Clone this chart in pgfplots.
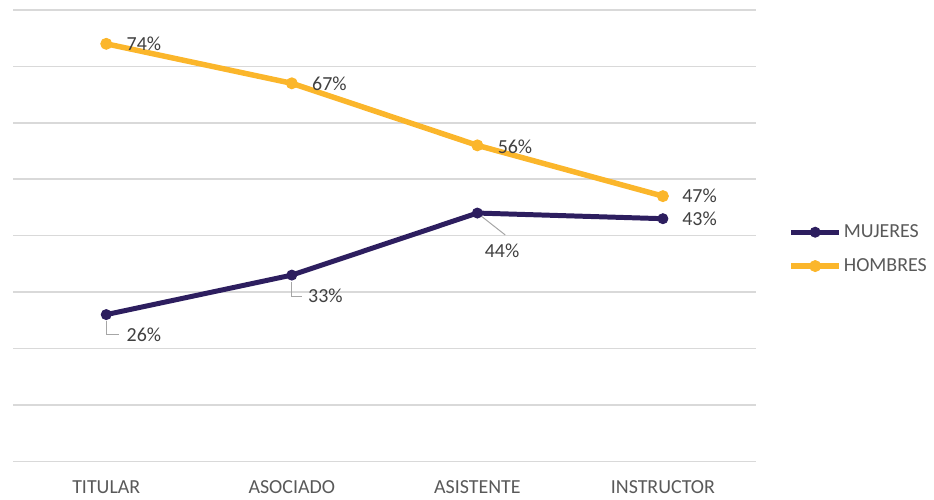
\documentclass[border=0pt]{standalone}
\usepackage{fontspec}
\setmainfont{Carlito}
\usepackage{pgfplots}
\usepackage{pgfplotstable}
\pgfplotsset{compat=1.18}
\definecolor{muj}{RGB}{45,30,95}
\definecolor{hom}{RGB}{251,182,43}
\definecolor{gridc}{RGB}{217,217,217}
\definecolor{txt}{RGB}{89,89,89}
\definecolor{lbl}{RGB}{64,64,64}
\pgfplotstableread{
x y dx dy
0 26 20 -20
1 33 16 -21
2 44 7 -38
3 43 19 0
}\mujeres
\pgfplotstableread{
x y dx dy
0 74 20 0
1 67 20 0
2 56 20 -1
3 47 19 0
}\hombres
\begin{document}
\fontsize{20}{24}\selectfont
\begin{tikzpicture}
\path (-10pt,-38pt) rectangle (924pt,463pt);
\begin{axis}[
  scale only axis, width=745pt, height=453pt,
  xmin=-0.5, xmax=3.5, ymin=0, ymax=80,
  xtick={0,1,2,3}, xticklabels={TITULAR,ASOCIADO,ASISTENTE,INSTRUCTOR},
  ytick={0,10,...,80}, yticklabels={},
  ymajorgrids, grid style={gridc, line width=1.5pt},
  axis line style={draw=none}, major tick length=0pt,
  /pgf/number format/assume math mode=true,
  xticklabel style={font=\fontsize{20}{24}\selectfont, text=txt, anchor=base, yshift=-32pt},
  clip=false,
  legend style={at={(1.04,0.47)}, anchor=west, draw=none, fill=none,
    font=\fontsize{20}{24}\selectfont, text=txt, row sep=14pt,
    nodes={inner sep=2pt, anchor=west}},
  legend cell align=left,
  legend image code/.code={\draw[mark repeat=2, mark phase=2, #1] plot coordinates {(0pt,0pt) (24pt,0pt) (48pt,0pt)};},
  nodes near coords={\pgfmathprintnumber{\pgfplotspointmeta}\%},
  visualization depends on={\thisrow{dx} \as \dx},
  visualization depends on={\thisrow{dy} \as \dy},
  every node near coord/.append style={anchor=west, inner sep=0pt, text=lbl, font=\fontsize{20}{24}\selectfont, xshift=\dx, yshift=\dy},
]
\draw[gray!70, line width=1pt] (axis cs:0,26) ++(0pt,-6pt) -- ++(0pt,-14pt) -- ++(13pt,0pt);
\draw[gray!70, line width=1pt] (axis cs:1,33) ++(0pt,-7pt) -- ++(0pt,-14pt) -- ++(10pt,0pt);
\draw[gray!70, line width=1pt] (axis cs:2,44) -- ++(28pt,-22pt);
\addplot[muj, line width=5pt, mark=*, mark size=5pt, mark options={line width=1pt}] table[x=x,y=y] {\mujeres};
\addlegendentry{MUJERES}
\addplot[hom, line width=5.5pt, mark=*, mark size=5.5pt, mark options={line width=1pt}] table[x=x,y=y] {\hombres};
\addlegendentry{HOMBRES}
\end{axis}
\end{tikzpicture}
\end{document}
